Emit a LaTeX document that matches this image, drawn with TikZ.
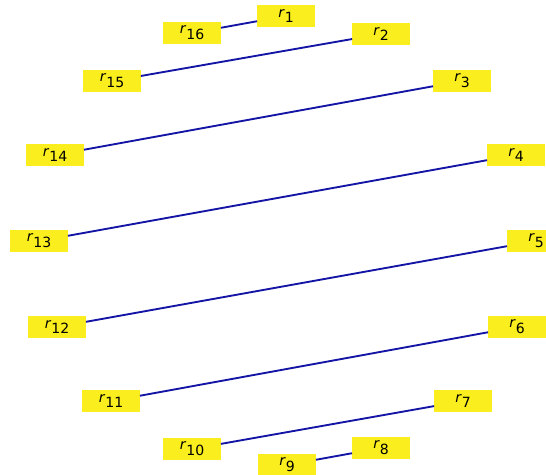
\documentclass[tikz,border=0pt]{standalone}
\usepackage{fontspec}
\setmainfont{DejaVu Sans}
\usepackage{tikz}
\usetikzlibrary{positioning}

\definecolor{boxyellow}{RGB}{250,238,30}
\definecolor{linkblue}{RGB}{20,20,165}
\newcommand{\rlab}[1]{\textit{r}\raisebox{-0.75ex}{#1}}

\begin{document}
\begin{tikzpicture}[
      x=0.03cm, y=-0.03cm,
      reg/.style={rectangle, fill=boxyellow, minimum width=1.72cm, minimum height=0.68cm, inner sep=0pt, font=\fontsize{12}{14}\selectfont},
      link/.style={draw=linkblue, line width=1.6pt}
    ]
    \useasboundingbox (0,0) rectangle (546,475);

    \node[reg] (r1) at (286,16) {\rlab{1}};
    \node[reg] (r2) at (381,34) {\rlab{2}};
    \node[reg] (r3) at (462,81) {\rlab{3}};
    \node[reg] (r4) at (516,155) {\rlab{4}};
    \node[reg] (r5) at (536,241) {\rlab{5}};
    \node[reg] (r6) at (517,327) {\rlab{6}};
    \node[reg] (r7) at (463,401) {\rlab{7}};
    \node[reg] (r8) at (381,448) {\rlab{8}};
    \node[reg] (r9) at (287,465) {\rlab{9}};
    \node[reg] (r10) at (192,449) {\rlab{10}};
    \node[reg] (r11) at (111,401) {\rlab{11}};
    \node[reg] (r12) at (57,327) {\rlab{12}};
    \node[reg] (r13) at (39,241) {\rlab{13}};
    \node[reg] (r14) at (55,155) {\rlab{14}};
    \node[reg] (r15) at (112,81) {\rlab{15}};
    \node[reg] (r16) at (192,33) {\rlab{16}};

    \draw[link] (r16) -- (r1);
    \draw[link] (r15) -- (r2);
    \draw[link] (r14) -- (r3);
    \draw[link] (r13) -- (r4);
    \draw[link] (r12) -- (r5);
    \draw[link] (r11) -- (r6);
    \draw[link] (r10) -- (r7);
    \draw[link] (r9) -- (r8);
  \end{tikzpicture}
\end{document}
